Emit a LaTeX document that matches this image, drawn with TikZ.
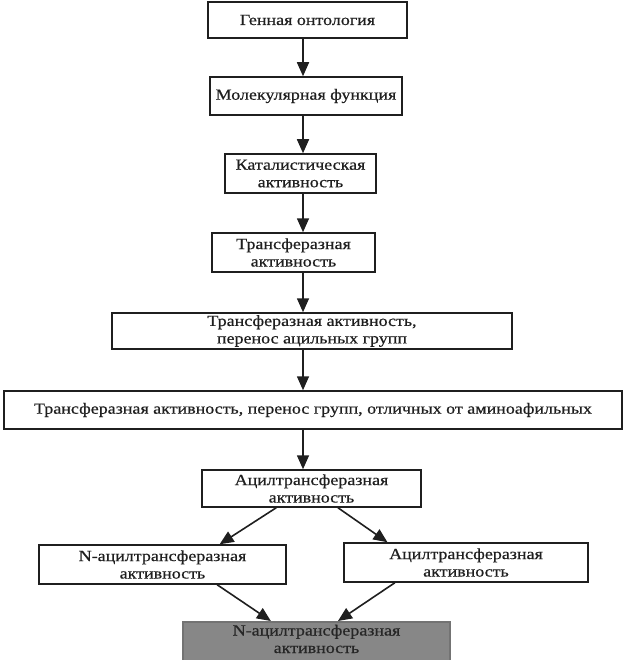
\documentclass[tikz,border=0pt]{standalone}
\usepackage{fontspec}
\setmainfont{Liberation Serif}[FakeBold=0.5,FakeStretch=1.16]
\usetikzlibrary{arrows.meta,calc}
\begin{document}
\begin{tikzpicture}[x=1pt,y=-1pt,
  box/.style={draw=black!88, line width=1.5pt, fill=white, align=center, inner sep=0pt,
    font=\fontsize{15.5}{17.5}\selectfont, text=black!88},
  arr/.style={draw=black!88, line width=1.6pt, -{Triangle[length=14pt,width=12pt]}},
  graybox/.style={box, fill=black!47, draw=black!55, text=black!85}]
\clip (0,0) rectangle (627,660);
\fill[white] (0,0) rectangle (627,660);
\coordinate (ax) at (303,0);
\node[box, minimum width=199pt, minimum height=36pt] (b1) at (307.5,20) {Генная онтология};
\node[box, minimum width=192pt, minimum height=38pt] (b2) at (306,96) {Молекулярная функция};
\node[box, minimum width=151pt, minimum height=39pt] (b3) at (300.5,173.5) {Каталистическая\\активность};
\node[box, minimum width=163pt, minimum height=39pt] (b4) at (293.5,252.5) {Трансферазная\\активность};
\node[box, minimum width=400pt, minimum height=36pt] (b5) at (312,331) {Трансферазная активность,\\перенос ацильных групп};
\node[box, minimum width=618pt, minimum height=38pt] (b6) at (313,410) {Трансферазная активность, перенос групп, отличных от аминоафильных};
\node[box, minimum width=219pt, minimum height=37pt] (b7) at (311.5,488.5) {Ацилтрансферазная\\активность};
\node[box, minimum width=247pt, minimum height=39pt] (b8) at (162.5,564.5) {N-ацилтрансферазная\\активность};
\node[box, minimum width=244pt, minimum height=39pt] (b9) at (466,562.5) {Ацилтрансферазная\\активность};
\node[graybox, minimum width=267pt, anchor=north, inner ysep=3pt] (b10) at (316.5,621) {N-ацилтрансферазная\\активность\\\rule{0pt}{30pt}};
\draw[arr] (b1.south -| ax) -- (b2.north -| ax);
\draw[arr] (b2.south -| ax) -- (b3.north -| ax);
\draw[arr] (b3.south -| ax) -- (b4.north -| ax);
\draw[arr] (b4.south -| ax) -- (b5.north -| ax);
\draw[arr] (b5.south -| ax) -- (b6.north -| ax);
\draw[arr] (b6.south -| ax) -- (b7.north -| ax);
\draw[arr] ($(b7.south west)!0.34!(b7.south east)$) -- ($(b8.north west)!0.73!(b8.north east)$);
\draw[arr] ($(b7.south west)!0.62!(b7.south east)$) -- ($(b9.north west)!0.18!(b9.north east)$);
\draw[arr] ($(b8.south west)!0.72!(b8.south east)$) -- ($(b10.north west)!0.33!(b10.north east)$);
\draw[arr] ($(b9.south west)!0.21!(b9.south east)$) -- ($(b10.north west)!0.58!(b10.north east)$);
\end{tikzpicture}
\end{document}
